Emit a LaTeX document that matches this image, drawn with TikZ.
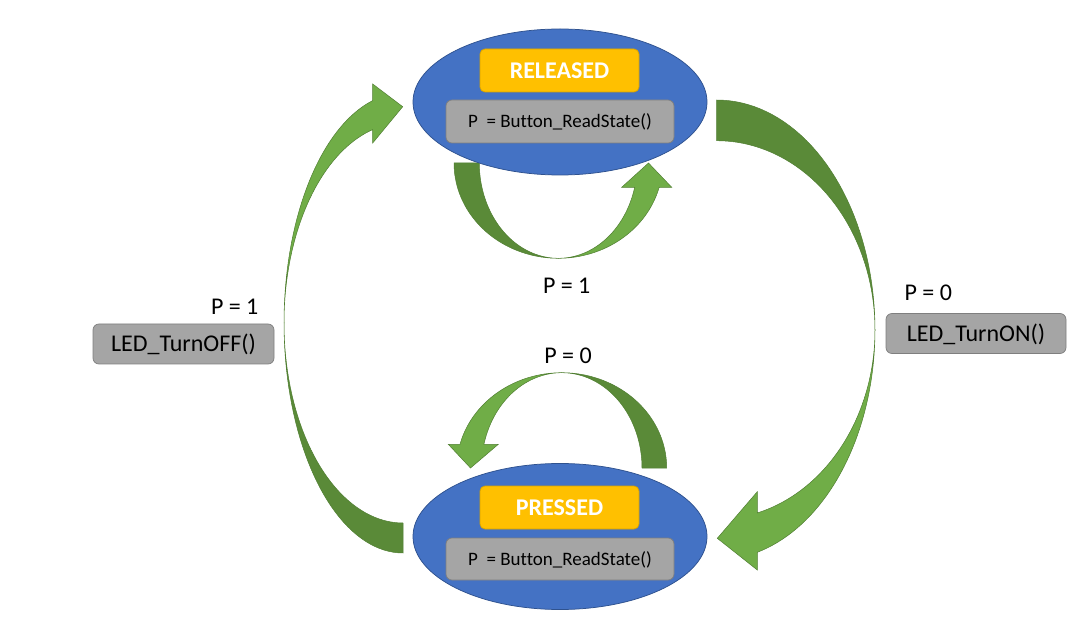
\documentclass[tikz,border=0pt]{standalone}
\usepackage{fontspec}
\setmainfont[Ligatures=NoCommon]{Carlito}
\usetikzlibrary{shapes.geometric}
\definecolor{arrlight}{HTML}{70AD47}
\definecolor{arrdark}{HTML}{5A8A38}
\definecolor{arredge}{HTML}{507E32}
\definecolor{stblue}{HTML}{4472C4}
\definecolor{stedge}{HTML}{2F528F}
\definecolor{gold}{HTML}{FFC000}
\definecolor{goldedge}{HTML}{D9A300}
\definecolor{grayfill}{HTML}{A5A5A5}
\definecolor{grayedge}{HTML}{7F7F7F}
\tikzset{
  state/.style={ellipse, fill=stblue, draw=stedge, line width=0.75pt,
    minimum width=294pt, minimum height=146pt, inner sep=0pt},
  goldbox/.style={rectangle, rounded corners=5pt, fill=gold, draw=goldedge,
    line width=0.75pt, minimum width=159pt, minimum height=43pt, inner sep=0pt,
    text=white, font=\bfseries\fontsize{24}{28}\selectfont,
    text height=15.5pt, text depth=0pt},
  graybox/.style={rectangle, rounded corners=6pt, fill=grayfill, draw=grayedge,
    line width=0.75pt, minimum width=228pt, minimum height=43pt, inner sep=0pt,
    font=\fontsize{19}{22}\selectfont, text height=12.2pt, text depth=0pt},
  ledbox/.style={rectangle, rounded corners=6pt, fill=grayfill, draw=grayedge,
    line width=0.75pt, minimum height=40pt, inner sep=0pt,
    font=\fontsize{24}{28}\selectfont, text height=15.5pt, text depth=0pt},
  lbl/.style={font=\fontsize{24}{28}\selectfont, inner sep=0pt, anchor=base},
  backpart/.style={fill=arrdark, draw=arredge, line width=0.5pt},
  frontpart/.style={fill=arrlight, draw=arredge, line width=0.5pt}
}
\begin{document}
\begin{tikzpicture}[x=1pt,y=-1pt]
\useasboundingbox (0,0) rectangle (1079,617);

% ---- left arrow: PRESSED -> RELEASED
\filldraw[backpart] plot[domain=180:90,samples=40] ({403+119*cos(\x)},{323+230*sin(\x)})
  -- plot[domain=90:180,samples=40] ({403+119*cos(\x)},{323+200*sin(\x)}) -- cycle;
\filldraw[frontpart] plot[domain=180:255.25,samples=40] ({403+119*cos(\x)},{323+230*sin(\x)})
  -- (372.7,84) -- (402.7,106.7) -- (372.7,143)
  -- plot[domain=255.25:180,samples=40] ({403+119*cos(\x)},{323+200*sin(\x)}) -- cycle;

% ---- right arrow: RELEASED -> PRESSED
\filldraw[backpart] plot[domain=0:-90,samples=40] ({716.7+158.3*cos(\x)},{330+230*sin(\x)})
  -- plot[domain=-90:0,samples=40] ({716.7+158.3*cos(\x)},{330+189.3*sin(\x)}) -- cycle;
\filldraw[frontpart] plot[domain=0:75.14,samples=40] ({716.7+158.3*cos(\x)},{330+230*sin(\x)})
  -- (757.3,570) -- (717.3,538.3) -- (757.3,491.7)
  -- plot[domain=75.14:0,samples=40] ({716.7+158.3*cos(\x)},{330+189.3*sin(\x)}) -- cycle;

% ---- self loop under RELEASED (P = 1)
\filldraw[backpart] plot[domain=90:180,samples=40] ({558.3+104.3*cos(\x)},{163+95.3*sin(\x)})
  -- plot[domain=180:90,samples=40] ({558.3+79*cos(\x)},{163+95.3*sin(\x)}) -- cycle;
\filldraw[frontpart] plot[domain=90:14.77,samples=40] ({558.3+104.3*cos(\x)},{163+95.3*sin(\x)})
  -- (671.7,187.3) -- (648.5,163) -- (621.7,187.3)
  -- plot[domain=14.77:90,samples=40] ({558.3+79*cos(\x)},{163+95.3*sin(\x)}) -- cycle;

% ---- self loop above PRESSED (P = 0)
\filldraw[backpart] plot[domain=-90:0,samples=40] ({561.7+105*cos(\x)},{468+95.3*sin(\x)})
  -- plot[domain=0:-90,samples=40] ({561.7+80.3*cos(\x)},{468+95.3*sin(\x)}) -- cycle;
\filldraw[frontpart] plot[domain=-90:-165.6,samples=40] ({561.7+105*cos(\x)},{468+95.3*sin(\x)})
  -- (448.3,444.3) -- (470.5,468) -- (498.3,444.3)
  -- plot[domain=-165.6:-90,samples=40] ({561.7+80.3*cos(\x)},{468+95.3*sin(\x)}) -- cycle;

% ---- states
\node[state] (rel) at (560,102) {};
\node[goldbox] (relname) at (559.5,70.5) {RELEASED};
\node[graybox] (relact) at (560,121.5) {P\ \ = Button\_ReadState()};

\node[state] (pre) at (560,536.5) {};
\node[goldbox] (prename) at (559.5,507.5) {PRESSED};
\node[graybox, minimum height=42pt] (preact) at (560,559) {P\ \ = Button\_ReadState()};

% ---- transition actions and labels
\node[ledbox, minimum width=181pt] (off) at (183.5,344) {LED\_TurnOFF()};
\node[ledbox, minimum width=180pt] (on) at (976,333.5) {LED\_TurnON()};

\node[lbl] (lp1) at (234.7,314.3) {P = 1};
\node[lbl] (rp0) at (928.3,300.7) {P = 0};
\node[lbl] (mp1) at (566.7,294) {P = 1};
\node[lbl] (mp0) at (568,364) {P = 0};
\end{tikzpicture}
\end{document}
